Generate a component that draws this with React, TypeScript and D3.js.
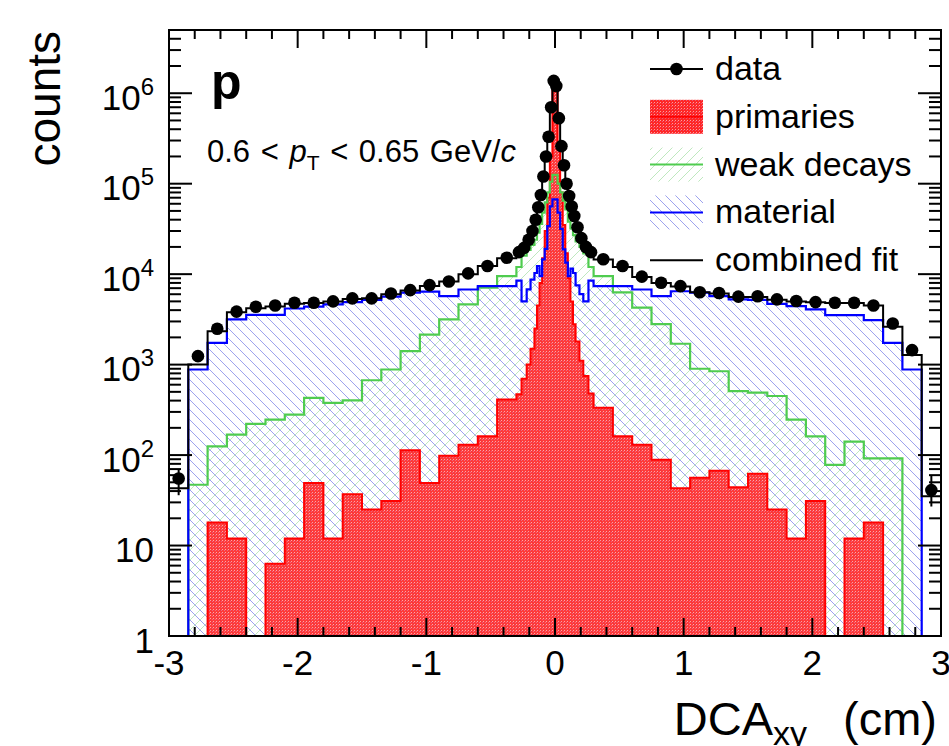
import React from "react";
import * as d3 from "d3";

// bin edges (cm): 0.15 wide in the tails, finer around the peak
const binEdges = [
  -3, -2.85, -2.7, -2.55, -2.4, -2.25, -2.1, -1.95, -1.8, -1.65, -1.5, -1.35, -1.2, -1.05, -0.9, -0.75, -0.6, -0.45, -0.3,
  -0.26, -0.22, -0.19, -0.16, -0.14, -0.12, -0.1, -0.08, -0.06, -0.04, -0.02, 0,
  0.02, 0.04, 0.06, 0.08, 0.1, 0.12, 0.14, 0.16, 0.19, 0.22, 0.26, 0.3,
  0.45, 0.6, 0.75, 0.9, 1.05, 1.2, 1.35, 1.5, 1.65, 1.8, 1.95, 2.1, 2.25, 2.4, 2.55, 2.7, 2.85, 3,
];

const dataCounts = [
  55, 1240, 2490, 3850, 4370, 4510, 4830, 4830, 5000, 5400, 5400, 6120, 6660, 7570, 8300, 10200, 12300, 15200,
  17500, 19500, 24000, 30000, 40000, 55000, 75000, 120000, 200000, 330000, 700000, 1370000,
  1200000, 530000, 260000, 160000, 100000, 73000, 56000, 44000, 33000, 25000, 20000, 17500,
  14600, 12300, 9380, 8050, 7380, 6300, 6200, 5640, 5700, 5260, 5040, 4910, 4830, 4830, 4510, 2850, 1445, 41,
];

const fitCounts = [
  43, 1000, 2340, 3800, 4200, 4400, 4700, 4800, 5000, 5300, 5400, 6000, 6600, 7400, 8300, 10000, 12300, 15000,
  17300, 19800, 23500, 30500, 39000, 56000, 74000, 118000, 205000, 320000, 720000, 1300000,
  1250000, 520000, 265000, 158000, 101000, 72000, 57000, 43500, 33500, 24500, 20000, 17300,
  14500, 12000, 9300, 8000, 7300, 6300, 6100, 5600, 5600, 5200, 5000, 4900, 4800, 4800, 4500, 2630, 1280, 35,
];

const primaries = [
  0, 0, 18, 12, 0, 6.3, 12, 49, 12, 37, 25, 31, 113, 49, 98, 130, 161, 411,
  470, 700, 1000, 1500, 2500, 4500, 8000, 15000, 30000, 70000, 200000, 1100000,
  1050000, 240000, 80000, 35000, 17000, 9000, 5000, 2800, 1800, 1100, 750, 480,
  334, 161, 130, 89, 43, 56, 67, 44, 62, 25, 12, 31, 0, 12, 18, 0, 0, 0,
];

const weakDecays = [
  0, 47, 125, 168, 221, 247, 280, 429, 378, 403, 672, 883, 1407, 2150, 3160, 4630, 7090, 9530,
  12000, 16000, 18500, 21000, 24000, 28800, 36000, 48000, 62000, 80000, 105000, 125000,
  125000, 100000, 80000, 65000, 52000, 38000, 32000, 27000, 23000, 20000, 17000, 12000,
  9530, 6300, 4260, 2800, 1700, 900, 845, 510, 490, 450, 247, 161, 78, 141, 92, 92, 0, 0,
];

const material = [
  0, 883, 1740, 3160, 3540, 3540, 4170, 4380, 4630, 4900, 5180, 5640, 6240, 6400, 5720, 6770, 7380, 7380,
  8500, 5000, 6800, 8700, 10300, 12300, 9500, 14600, 19000, 34000, 56000, 67000,
  67000, 48000, 31600, 18800, 13400, 9500, 11500, 10300, 7500, 6000, 5000, 8500,
  7380, 7380, 6770, 5720, 6470, 6240, 5720, 5260, 5200, 4700, 4430, 4080, 3520, 3520, 3100, 1740, 883, 0,
];

// visible error bars on the outermost data points
const errorBars = [
  { bin: 0, lo: 36, hi: 70 },
  { bin: 59, lo: 27, hi: 60 },
];

const xTicks = [-3, -2, -1, 0, 1, 2, 3];
const yDecades = [0, 1, 2, 3, 4, 5, 6];
const legendItems = ["data", "primaries", "weak decays", "material", "combined fit"];

const W = 949;
const H = 746;
const plot = { left: 169, right: 941, top: 30, bottom: 636 };
const font = "'Liberation Sans', Arial, Helvetica, sans-serif";

const x = d3.scaleLinear().domain([-3, 3]).range([plot.left, plot.right]);
const y = d3.scaleLog().domain([1, 5e6]).range([plot.bottom, plot.top]).clamp(true);
const yv = (v: number) => (v <= 1 ? plot.bottom : y(v));

const stepPath = (vals: number[], close = false) => {
  let p = `M${x(binEdges[0])},${plot.bottom}`;
  vals.forEach((v, i) => {
    p += `L${x(binEdges[i])},${yv(v)}L${x(binEdges[i + 1])},${yv(v)}`;
  });
  p += `L${x(binEdges[binEdges.length - 1])},${plot.bottom}`;
  return close ? p + "Z" : p;
};

const binCenter = (i: number) => (binEdges[i] + binEdges[i + 1]) / 2;

const App = () => {
  const xMinor = d3.range(-3, 3.0001, 0.2).map((d) => Math.round(d * 10) / 10);
  const yMinor: number[] = [];
  yDecades.forEach((d) => {
    for (let k = 2; k <= 9; k++) {
      const v = k * Math.pow(10, d);
      if (v <= 5e6) yMinor.push(v);
    }
  });

  const legX0 = 650;
  const legX1 = 703;
  const legY = (i: number) => 69 + i * 47.8;

  return (
    <svg
      width={W}
      height={H}
      style={{ position: "absolute", left: 0, top: 0, background: "white" }}
      fontFamily={font}
    >
      <defs>
        <pattern id="hatchBlue" width="10" height="10" patternUnits="userSpaceOnUse">
          <path d="M-1,-1L11,11M-6,4L6,16M4,-6L16,6" stroke="#9da2ee" strokeWidth="1" />
        </pattern>
        <pattern id="hatchGreen" width="10" height="10" patternUnits="userSpaceOnUse">
          <path d="M-1,11L11,-1M-6,6L6,-6M4,16L16,4" stroke="#bfe8bf" strokeWidth="1" />
        </pattern>
        <pattern id="redDots" width="3" height="3" patternUnits="userSpaceOnUse">
          <rect width="3" height="3" fill="#ff2626" />
          <rect x="0" y="0" width="1" height="1" fill="#ff9c9c" />
          <rect x="2" y="1" width="1" height="1" fill="#e85a7a" />
        </pattern>
        <clipPath id="plotClip">
          <rect x={plot.left} y={plot.top} width={plot.right - plot.left} height={plot.bottom - plot.top} />
        </clipPath>
      </defs>

      <rect width={W} height={H} fill="white" />

      <g clipPath="url(#plotClip)">
        {/* filled templates */}
        <path d={stepPath(weakDecays, true)} fill="url(#hatchGreen)" />
        <path d={stepPath(material, true)} fill="url(#hatchBlue)" />
        <path d={stepPath(primaries, true)} fill="url(#redDots)" fillOpacity={0.9} />

        {/* outlines */}
        <path d={stepPath(primaries)} fill="none" stroke="#ff0000" strokeWidth={2} />
        <path d={stepPath(weakDecays)} fill="none" stroke="#4fcc4f" strokeWidth={2.2} />
        <path d={stepPath(material)} fill="none" stroke="#0000ff" strokeWidth={2.2} />
        <path d={stepPath(fitCounts)} fill="none" stroke="#000" strokeWidth={2} />

        {/* data points */}
        {errorBars.map((e) => (
          <line
            key={e.bin}
            x1={x(binCenter(e.bin))}
            x2={x(binCenter(e.bin))}
            y1={y(e.lo)}
            y2={y(e.hi)}
            stroke="#000"
            strokeWidth={2}
          />
        ))}
        {dataCounts.map((v, i) => (
          <circle key={i} cx={x(binCenter(i))} cy={y(v)} r={6.3} fill="#000" />
        ))}
      </g>

      {/* frame */}
      <rect
        x={plot.left}
        y={plot.top}
        width={plot.right - plot.left}
        height={plot.bottom - plot.top}
        fill="none"
        stroke="#000"
        strokeWidth={2}
      />

      {/* x ticks */}
      {xMinor.map((t) => {
        const major = xTicks.includes(t);
        const len = major ? 18 : 9;
        return (
          <g key={"xt" + t} stroke="#000" strokeWidth={2}>
            <line x1={x(t)} x2={x(t)} y1={plot.bottom} y2={plot.bottom - len} />
            <line x1={x(t)} x2={x(t)} y1={plot.top} y2={plot.top + len} />
          </g>
        );
      })}
      {xTicks.map((t) => (
        <text key={"xl" + t} x={x(t)} y={675} fontSize={35} textAnchor="middle">
          {t < 0 ? "-" + Math.abs(t) : String(t)}
        </text>
      ))}

      {/* y ticks */}
      {yDecades.map((d) => {
        const v = Math.pow(10, d);
        return (
          <g key={"yt" + d} stroke="#000" strokeWidth={2}>
            <line x1={plot.left} x2={plot.left + 23} y1={y(v)} y2={y(v)} />
            <line x1={plot.right} x2={plot.right - 23} y1={y(v)} y2={y(v)} />
          </g>
        );
      })}
      {yMinor.map((v) => (
        <g key={"ym" + v} stroke="#000" strokeWidth={2}>
          <line x1={plot.left} x2={plot.left + 12} y1={y(v)} y2={y(v)} />
          <line x1={plot.right} x2={plot.right - 12} y1={y(v)} y2={y(v)} />
        </g>
      ))}
      {yDecades.map((d) => (
        <text key={"yl" + d} x={154} y={y(Math.pow(10, d)) + 16.5} fontSize={35} textAnchor="end">
          {d === 0 ? "1" : "10"}
          {d >= 2 && (
            <tspan fontSize={24} dy={-15}>
              {d}
            </tspan>
          )}
        </text>
      ))}

      {/* axis titles */}
      <text transform="translate(60,31) rotate(-90)" fontSize={46} textAnchor="end">
        counts
      </text>
      <text x={937} y={735} fontSize={47} textAnchor="end">
        DCA
        <tspan fontSize={34} dy={10}>
          xy
        </tspan>
        <tspan dy={-10} dx={36}>
          (cm)
        </tspan>
      </text>

      {/* annotations */}
      <text x={211} y={99} fontSize={50} fontWeight="bold">
        p
      </text>
      <text x={207} y={162} fontSize={31} wordSpacing={2}>
        0.6 &lt;{" "}
        <tspan fontStyle="italic">p</tspan>
        <tspan fontSize={21} dy={8}>
          T
        </tspan>
        <tspan dy={-8}> &lt; 0.65 GeV/</tspan>
        <tspan fontStyle="italic">c</tspan>
      </text>

      {/* legend */}
      {legendItems.map((label, i) => {
        const cy = legY(i);
        return (
          <g key={label}>
            {i === 0 && (
              <>
                <line x1={legX0} x2={legX1} y1={cy} y2={cy} stroke="#000" strokeWidth={2} />
                <circle cx={(legX0 + legX1) / 2} cy={cy} r={6.3} fill="#000" />
              </>
            )}
            {i === 1 && (
              <>
                <rect x={legX0} y={cy - 17} width={legX1 - legX0} height={34} fill="url(#redDots)" />
                <line x1={legX0} x2={legX1} y1={cy} y2={cy} stroke="#ff0000" strokeWidth={2} />
              </>
            )}
            {i === 2 && (
              <>
                <rect x={legX0} y={cy - 17} width={legX1 - legX0} height={34} fill="url(#hatchGreen)" />
                <line x1={legX0} x2={legX1} y1={cy} y2={cy} stroke="#4fcc4f" strokeWidth={2} />
              </>
            )}
            {i === 3 && (
              <>
                <rect x={legX0} y={cy - 17} width={legX1 - legX0} height={34} fill="url(#hatchBlue)" />
                <line x1={legX0} x2={legX1} y1={cy} y2={cy} stroke="#0000ff" strokeWidth={2} />
              </>
            )}
            {i === 4 && <line x1={legX0} x2={legX1} y1={cy} y2={cy} stroke="#000" strokeWidth={2} />}
            <text x={715} y={cy + 11} fontSize={34}>
              {label}
            </text>
          </g>
        );
      })}
    </svg>
  );
};

export default App;
